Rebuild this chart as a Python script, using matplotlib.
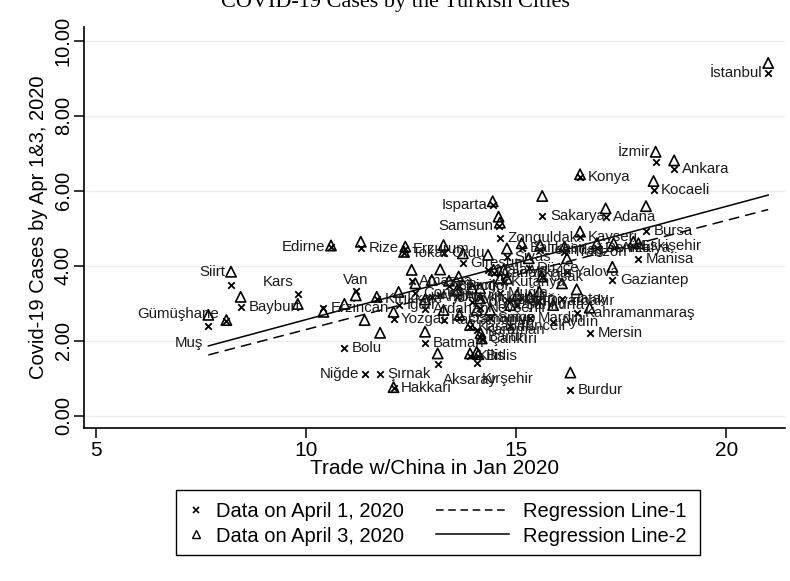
import matplotlib
matplotlib.use("Agg")
import matplotlib.pyplot as plt
from matplotlib.lines import Line2D
from matplotlib.patches import Rectangle
import numpy as np

# province, trade with China (log), log cases on Apr 1 and Apr 3
cities = [
    "İstanbul", "İzmir", "Ankara", "Konya", "Kocaeli", "Sakarya", "Isparta", "Samsun",
    "Zonguldak", "Adana", "Bursa", "Manisa", "Gaziantep", "Yalova", "Uşak", "Mersin",
    "Kahramanmaraş", "Hatay", "Diyarbakır", "Aydın", "Burdur", "Batman", "Aksaray",
    "Kırşehir", "Kilis", "Bitlis", "Bartın", "Nevşehir", "Bolu", "Niğde", "Şırnak",
    "Hakkari", "Edirne", "Rize", "Siirt", "Bayburt", "Kars", "Van", "Kırıkkale",
    "Erzincan", "Gümüşhane", "Muş", "Yozgat", "Erzurum", "Tokat", "Ordu", "Giresun",
    "Sivas", "Malatya", "Kütahya", "Muğla", "Kayseri", "Denizli", "Antalya", "Trabzon",
    "Eskişehir", "Tekirdağ", "Balıkesir", "Çorum", "Amasya", "Afyon", "Ağrı", "Artvin",
    "Adıyaman", "Bingöl", "Çanakkale", "Elazığ", "Kastamonu", "Osmaniye", "Karabük",
    "Karaman", "Çankırı", "Sinop", "Tunceli", "Şanlıurfa", "Mardin", "Kırklareli",
    "Ardahan", "Iğdır", "Bilecik", "Düzce",
]
trade = [
    21.00, 18.32, 18.76, 16.52, 18.27, 15.62, 14.44, 14.58,
    14.61, 17.13, 18.09, 17.91, 17.29, 16.21, 15.61, 16.75,
    16.44, 16.09, 15.55, 15.88, 16.29, 12.83, 13.13,
    14.06, 13.90, 14.10, 14.15, 14.14, 10.91, 11.39, 11.76,
    12.08, 10.59, 11.30, 8.21, 8.44, 9.80, 11.18, 11.68,
    10.41, 8.10, 7.67, 12.08, 12.36, 12.33, 13.27, 13.73,
    14.78, 14.33, 14.70, 14.62, 16.52, 16.92, 17.32, 16.15,
    17.79, 15.57, 15.13, 12.60, 12.51, 12.99, 13.19, 13.59,
    13.95, 13.63, 14.46, 14.78, 13.27, 13.65, 13.90,
    14.06, 14.18, 14.38, 14.86, 15.02, 15.33, 14.14,
    12.83, 12.20, 13.40, 15.30,
]
cases_apr1 = [
    9.13, 6.76, 6.57, 6.38, 6.02, 5.33, 5.62, 5.06,
    4.73, 5.29, 4.93, 4.17, 3.62, 3.84, 3.69, 2.20,
    2.73, 3.11, 3.05, 2.50, 0.68, 1.95, 1.38,
    1.40, 1.60, 1.58, 2.10, 2.87, 1.81, 1.11, 1.11,
    0.73, 4.50, 4.46, 3.49, 2.89, 3.24, 3.33, 3.10,
    2.86, 2.52, 2.39, 2.57, 4.45, 4.33, 4.33, 4.06,
    4.24, 3.88, 3.57, 3.26, 4.76, 4.46, 4.46, 4.37,
    4.52, 4.42, 4.46, 3.26, 3.60, 3.17, 3.22, 3.17,
    3.04, 3.45, 3.81, 3.09, 2.55, 2.60, 2.37,
    2.29, 2.04, 2.60, 2.40, 2.95, 2.60, 3.13,
    2.85, 2.95, 3.45, 3.95,
]
cases_apr3 = [
    9.41, 7.04, 6.81, 6.44, 6.26, 5.86, 5.72, 5.31,
    5.15, 5.53, 5.59, 4.60, 3.97, 4.20, 3.71, 2.88,
    3.37, 3.53, 3.31, 2.95, 1.15, 2.24, 1.66,
    1.70, 1.66, 1.64, 2.20, 3.13, 2.98, 2.55, 2.21,
    0.76, 4.54, 4.64, 3.84, 3.17, 2.98, 3.21, 3.17,
    2.77, 2.55, 2.69, 2.77, 4.51, 4.37, 4.55, 4.33,
    4.46, 4.29, 3.89, 3.66, 4.91, 4.60, 4.60, 4.51,
    4.64, 4.55, 4.60, 3.53, 3.89, 3.62, 3.90, 3.35,
    3.40, 3.71, 3.89, 3.66, 2.82, 2.69, 2.42,
    2.82, 2.06, 2.82, 2.95, 3.22, 3.17, 3.40,
    3.10, 3.30, 3.60, 4.20,
]

# fitted lines: Apr 1 (Line-1), Apr 3 (Line-2)
fit_slope = [0.291, 0.302]
fit_intercept = [-0.612, -0.457]

y_ticks = [0, 2, 4, 6, 8, 10]
x_ticks = [5, 10, 15, 20]

# label placement (default is to the right of the Apr 1 marker)
label_side = {
    "İstanbul": "w", "İzmir": "w3", "Isparta": "w", "Samsun": "w", "Edirne": "w",
    "Siirt": "w3", "Kars": "nw", "Van": "n", "Gümüşhane": "wnw", "Muş": "sw",
    "Niğde": "w", "Aksaray": "se", "Kırşehir": "se",
}
offsets = {
    "e": (5.5, 0, "left", 1), "w": (-4, 0, "right", 1), "w3": (-4, 0, "right", 3),
    "n": (0, 8, "center", 1), "nw": (-3, 9, "right", 1), "wnw": (-5, 5.5, "right", 1),
    "sw": (-3.5, -12, "right", 1), "se": (3.5, -11.5, "left", 1),
}

plt.rcParams["font.family"] = ["Liberation Sans", "DejaVu Sans"]

W, H = 790, 581
fig = plt.figure(figsize=(W / 100, H / 100), dpi=100)
ax = fig.add_axes([84 / W, 153 / H, 701 / W, 401 / H])

x = np.array(trade)
y1 = np.array(cases_apr1)
y3 = np.array(cases_apr3)

for v in y_ticks:
    ax.axhline(v, color="#e6eeef", lw=1.0, zorder=0)

ax.scatter(x, y1, marker="x", s=22, c="black", linewidths=1.3, zorder=3)
ax.scatter(x, y3, marker="^", s=55, facecolors="none", edgecolors="black",
           linewidths=1.2, zorder=3)

xs = np.array([x.min(), x.max()])
ax.plot(xs, fit_intercept[0] + fit_slope[0] * xs, color="black", lw=1.1,
        dashes=(7, 4), zorder=2)
ax.plot(xs, fit_intercept[1] + fit_slope[1] * xs, color="black", lw=1.1, zorder=2)

for name, xi, a, b in zip(cities, trade, cases_apr1, cases_apr3):
    dx, dy, ha, which = offsets[label_side.get(name, "e")]
    ax.annotate(name, (xi, a if which == 1 else b), xytext=(dx, dy),
                textcoords="offset points", ha=ha, va="center",
                fontsize=10.8, color="#1a1a1a", zorder=4)

ax.set_xlim(4.71, 21.4)
ax.set_ylim(-0.33, 10.37)
ax.set_xticks(x_ticks)
ax.set_yticks(y_ticks)
ax.set_yticklabels([f"{v:.2f}" for v in y_ticks], rotation=90, va="center",
                   fontsize=14.5)
ax.set_xticklabels([str(v) for v in x_ticks], fontsize=15)
ax.tick_params(axis="both", length=7, width=1.1, color="black")
ax.tick_params(axis="x", pad=2)
ax.tick_params(axis="y", pad=1)
for side in ("top", "right"):
    ax.spines[side].set_visible(False)
for side in ("left", "bottom"):
    ax.spines[side].set_linewidth(1.2)

ax.set_ylabel("Covid-19 Cases by Apr 1&3, 2020", fontsize=14.5, labelpad=4)
ax.set_xlabel("Trade w/China in Jan 2020", fontsize=15, labelpad=0)

# legend: marker column and line column inside one shared frame
mark_handles = [
    Line2D([], [], marker="x", ls="none", color="black", ms=4.5, mew=1.2),
    Line2D([], [], marker="^", ls="none", mfc="none", mec="black", ms=5.5, mew=1.0),
]
line_handles = [
    Line2D([], [], color="black", lw=1.1, dashes=(5, 3)),
    Line2D([], [], color="black", lw=1.1),
]
leg_y = 1 - 524 / H
common = dict(loc="center left", frameon=False, borderpad=0, labelspacing=0.25,
              handletextpad=0.7, prop={"size": 14.5})
fig.legend(mark_handles, ["Data on April 1, 2020", "Data on April 3, 2020"],
           bbox_to_anchor=(180 / W, leg_y), handlelength=0.6, **common)
fig.legend(line_handles, ["Regression Line-1", "Regression Line-2"],
           bbox_to_anchor=(426 / W, leg_y), handlelength=3.6, **common)
fig.add_artist(Rectangle((176 / W, 1 - 555 / H), 524 / W, 65 / H,
                         transform=fig.transFigure, fill=False,
                         edgecolor="black", lw=1.0))

fig.text(0.5, 1 - 7.5 / H, "COVID-19 Cases by the Turkish Cities",
         family=["Liberation Serif", "DejaVu Serif"], fontsize=16,
         ha="center", va="baseline")

fig.savefig("out.png", dpi=100)
